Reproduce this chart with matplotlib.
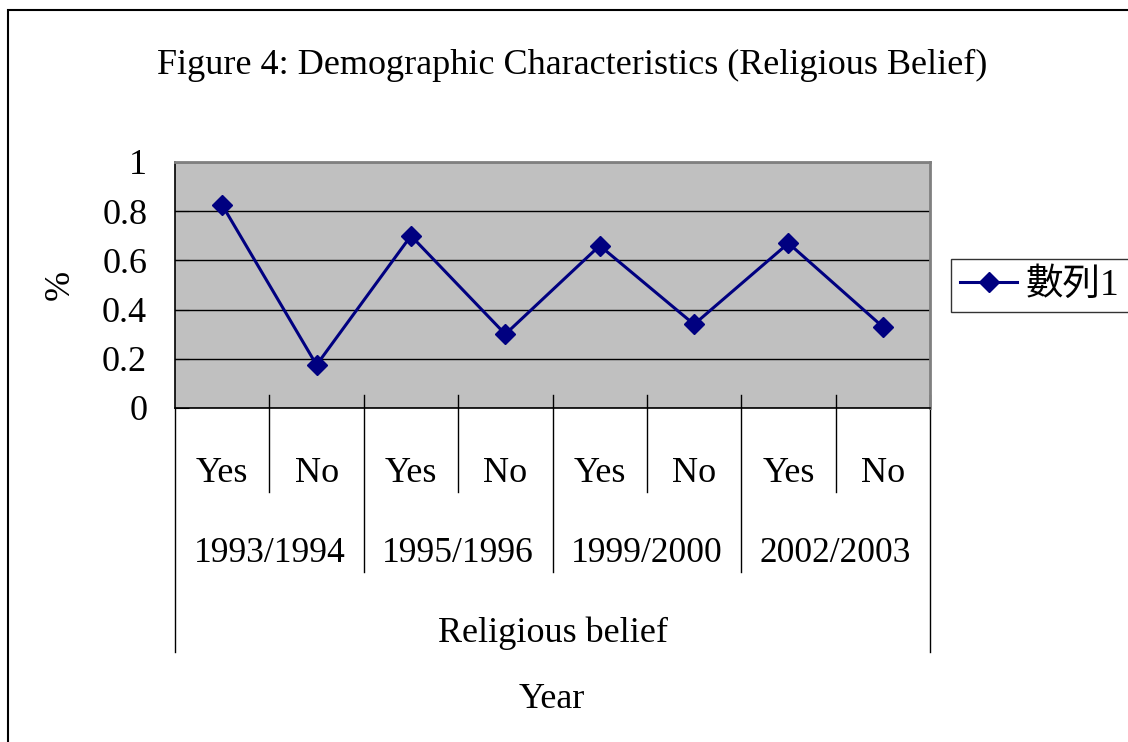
import matplotlib.pyplot as plt
from matplotlib.patches import Rectangle

plt.rcParams['font.family'] = ['Liberation Serif', 'Noto Sans CJK TC']

# data
answers = ['Yes', 'No', 'Yes', 'No', 'Yes', 'No', 'Yes', 'No']
years = ['1993/1994', '1995/1996', '1999/2000', '2002/2003']
share = [0.825, 0.175, 0.70, 0.30, 0.66, 0.34, 0.67, 0.33]
yticks = [0, 0.2, 0.4, 0.6, 0.8, 1]
yticklabels = ['0', '0.2', '0.4', '0.6', '0.8', '1']

W, H = 1128, 742
fig = plt.figure(figsize=(W / 100, H / 100), dpi=100)

# outer chart frame (cut off at right/bottom like the screenshot)
fig.patches.append(Rectangle((8 / W, -0.1), 1.2, 0.1 + (H - 10) / H,
                             transform=fig.transFigure, fill=False,
                             edgecolor='black', linewidth=1.5))

ax = fig.add_axes([175 / W, (H - 408) / H, 755 / W, 246 / H])
ax.set_facecolor('#c0c0c0')
x = list(range(len(share)))
line, = ax.plot(x, share, color='#000080', linewidth=2.2, marker='D',
                markersize=10, label='數列1', zorder=3)

ax.set_xlim(-0.5, len(share) - 0.5)
ax.set_ylim(0, 1)
ax.set_yticks(yticks)
ax.set_yticklabels(yticklabels)
ax.set_xticks([])
ax.yaxis.grid(True, color='black', linewidth=1)
ax.set_axisbelow(True)
ax.tick_params(axis='y', direction='in', length=10, pad=20, labelsize=26)

for side in ['top', 'right']:
    ax.spines[side].set_color('#808080')
    ax.spines[side].set_linewidth(2)
ax.spines['left'].set_color('black')
ax.spines['bottom'].set_color('black')
ax.spines['left'].set_linewidth(1.2)
ax.spines['bottom'].set_linewidth(1.2)

# multi-level category axis
tr = ax.get_xaxis_transform()
top = 13 / 246
for i in range(len(share) + 1):
    xb = i - 0.5
    if i == 0:
        y0, y1 = 0, -244 / 246
    elif i == len(share):
        y0, y1 = top, -244 / 246
    elif i % 2 == 0:
        y0, y1 = top, -164 / 246
    else:
        y0, y1 = top, -84 / 246
    ax.plot([xb, xb], [y0, y1], color='black', linewidth=1,
            transform=tr, clip_on=False)

for i, a in enumerate(answers):
    ax.text(i, -65 / 246, a, transform=tr, ha='center', va='center',
            fontsize=26)
for j, yr in enumerate(years):
    ax.text(2 * j + 0.5, -145 / 246, yr, transform=tr, ha='center',
            va='center', fontsize=25.5)
ax.text((len(share) - 1) / 2, -225 / 246, 'Religious belief', transform=tr,
        ha='center', va='center', fontsize=26)

fig.text(552 / W, (H - 700) / H, 'Year', ha='center', va='center',
         fontsize=26)
fig.text(60 / W, (H - 285) / H, '%', rotation=90, ha='center',
         va='center', fontsize=26)
fig.text(572 / W, (H - 65) / H,
         'Figure 4: Demographic Characteristics (Religious Belief)',
         ha='center', va='center', fontsize=26)

leg = fig.legend(handles=[line], loc='center left',
                 bbox_to_anchor=(951 / W, (H - 285.5) / H),
                 borderaxespad=0, fontsize=27, frameon=True, fancybox=False,
                 edgecolor='black', handlelength=1.5, handletextpad=0.25,
                 borderpad=0.25)
leg.get_frame().set_linewidth(1)

fig.savefig('out.png', dpi=100)
